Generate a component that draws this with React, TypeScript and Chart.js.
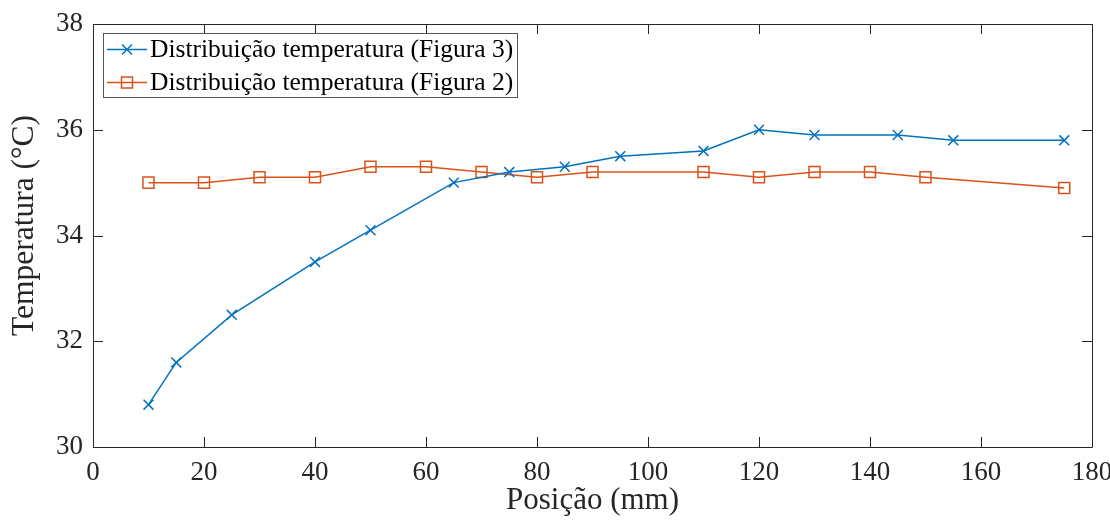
import React, { useEffect, useRef } from "react";
import { Chart, registerables } from "chart.js";

Chart.register(...registerables);

const xFig3 = [10, 15, 25, 40, 50, 65, 75, 85, 95, 110, 120, 130, 145, 155, 175];
const yFig3 = [30.8, 31.6, 32.5, 33.5, 34.1, 35.0, 35.2, 35.3, 35.5, 35.6, 36.0, 35.9, 35.9, 35.8, 35.8];
const xFig2 = [10, 20, 30, 40, 50, 60, 70, 80, 90, 110, 120, 130, 140, 150, 175];
const yFig2 = [35.0, 35.0, 35.1, 35.1, 35.3, 35.3, 35.2, 35.1, 35.2, 35.2, 35.1, 35.2, 35.2, 35.1, 34.9];
const seriesLabels = ["Distribuição temperatura (Figura 3)", "Distribuição temperatura (Figura 2)"];
const xTicks = [0, 20, 40, 60, 80, 100, 120, 140, 160, 180];
const yTicks = [30, 32, 34, 36, 38];
const xTitle = "Posição (mm)";
const yTitle = "Temperatura (°C)";

const BLUE = "#0072BD";
const ORANGE = "#D95319";
const AXIS = "#262626";
const FONT = "'Liberation Serif', 'Times New Roman', serif";

const boxPlugin = {
  id: "matlabBox",
  afterDatasetsDraw(chart: any) {
    const { ctx, chartArea, scales } = chart;
    const { left, right, top, bottom } = chartArea;
    ctx.save();
    ctx.strokeStyle = AXIS;
    ctx.lineWidth = 1;
    ctx.beginPath();
    ctx.rect(Math.round(left) + 0.5, Math.round(top) + 0.5, Math.round(right - left), Math.round(bottom - top));
    ctx.stroke();
    const tl = 10;
    ctx.beginPath();
    for (const v of xTicks) {
      const px = Math.round(scales.x.getPixelForValue(v)) + 0.5;
      ctx.moveTo(px, bottom);
      ctx.lineTo(px, bottom - tl);
      ctx.moveTo(px, top);
      ctx.lineTo(px, top + tl);
    }
    for (const v of yTicks) {
      const py = Math.round(scales.y.getPixelForValue(v)) + 0.5;
      ctx.moveTo(left, py);
      ctx.lineTo(left + tl, py);
      ctx.moveTo(right, py);
      ctx.lineTo(right - tl, py);
    }
    ctx.stroke();

    // y-axis title (drawn here to match the reference's slightly raised placement)
    ctx.save();
    ctx.translate(24.5, (top + bottom) / 2 - 10);
    ctx.rotate(-Math.PI / 2);
    ctx.font = `31.5px ${FONT}`;
    ctx.fillStyle = AXIS;
    ctx.textAlign = "center";
    ctx.textBaseline = "middle";
    ctx.fillText(yTitle, 0, 0);
    ctx.restore();

    // legend
    const lx = 103.5, ly = 33.5, lw = 414, lh = 64;
    ctx.fillStyle = "#ffffff";
    ctx.fillRect(lx, ly, lw, lh);
    ctx.strokeStyle = "#555555";
    ctx.strokeRect(lx, ly, lw, lh);
    const rows = [
      { label: seriesLabels[0], color: BLUE, style: "crossRot" },
      { label: seriesLabels[1], color: ORANGE, style: "rect" },
    ];
    ctx.font = `25.5px ${FONT}`;
    ctx.textBaseline = "middle";
    ctx.textAlign = "left";
    rows.forEach((r, i) => {
      const cy = ly + 16 + i * 33;
      ctx.strokeStyle = r.color;
      ctx.lineWidth = 1.5;
      ctx.beginPath();
      ctx.moveTo(107, cy);
      ctx.lineTo(147, cy);
      ctx.stroke();
      ctx.beginPath();
      if (r.style === "crossRot") {
        const s = 5;
        ctx.moveTo(127 - s, cy - s);
        ctx.lineTo(127 + s, cy + s);
        ctx.moveTo(127 + s, cy - s);
        ctx.lineTo(127 - s, cy + s);
      } else {
        const s = 5.5;
        ctx.rect(127 - s, cy - s, 2 * s, 2 * s);
      }
      ctx.stroke();
      ctx.fillStyle = "#000000";
      ctx.fillText(r.label, 150, cy + 1);
    });
    ctx.restore();
  },
};

export default function App() {
  const ref = useRef<HTMLCanvasElement | null>(null);
  useEffect(() => {
    document.body.style.margin = "0";
    if (!ref.current) return;
    const chart = new Chart(ref.current, {
      type: "line",
      data: {
        datasets: [
          {
            label: seriesLabels[0],
            data: xFig3.map((x, i) => ({ x, y: yFig3[i] })),
            borderColor: BLUE,
            backgroundColor: BLUE,
            borderWidth: 1.5,
            pointStyle: "crossRot",
            pointRadius: 7,
            pointBorderWidth: 1.5,
            pointBorderColor: BLUE,
            tension: 0,
          },
          {
            label: seriesLabels[1],
            data: xFig2.map((x, i) => ({ x, y: yFig2[i] })),
            borderColor: ORANGE,
            backgroundColor: "rgba(0,0,0,0)",
            borderWidth: 1.5,
            pointStyle: "rect",
            pointRadius: 7.8,
            pointBorderWidth: 1.5,
            pointBorderColor: ORANGE,
            pointBackgroundColor: "rgba(0,0,0,0)",
            tension: 0,
          },
        ],
      },
      options: {
        animation: false,
        responsive: false,
        maintainAspectRatio: false,
        layout: { padding: { top: 24, right: 18, left: 0, bottom: 0 } },
        plugins: { legend: { display: false }, tooltip: { enabled: false } },
        scales: {
          x: {
            type: "linear",
            min: 0,
            max: 180,
            afterBuildTicks: (s: any) => {
              s.ticks = xTicks.map((v) => ({ value: v }));
            },
            afterFit: (s: any) => {
              s.height = 73;
              s.paddingLeft = 0;
              s.paddingRight = 0;
            },
            grid: { display: false, drawTicks: false },
            border: { display: false },
            ticks: { font: { family: FONT, size: 27 }, color: AXIS, padding: 10, maxRotation: 0, autoSkip: false },
            title: {
              display: true,
              text: xTitle,
              font: { family: FONT, size: 31, lineHeight: 1.25 },
              color: AXIS,
              padding: { top: 0, bottom: 0 },
            },
          },
          y: {
            type: "linear",
            min: 30,
            max: 38,
            afterBuildTicks: (s: any) => {
              s.ticks = yTicks.map((v) => ({ value: v }));
            },
            afterFit: (s: any) => {
              s.width = 93;
              s.paddingTop = 0;
              s.paddingBottom = 0;
            },
            grid: { display: false, drawTicks: false },
            border: { display: false },
            ticks: { font: { family: FONT, size: 27 }, color: AXIS, padding: 10, autoSkip: false },
            title: { display: false, text: yTitle },
          },
        },
      },
      plugins: [boxPlugin],
    });
    return () => chart.destroy();
  }, []);
  return (
    <div style={{ width: 1110, height: 520, background: "#fff" }}>
      <canvas ref={ref} width={1110} height={520} style={{ display: "block" }} />
    </div>
  );
}
